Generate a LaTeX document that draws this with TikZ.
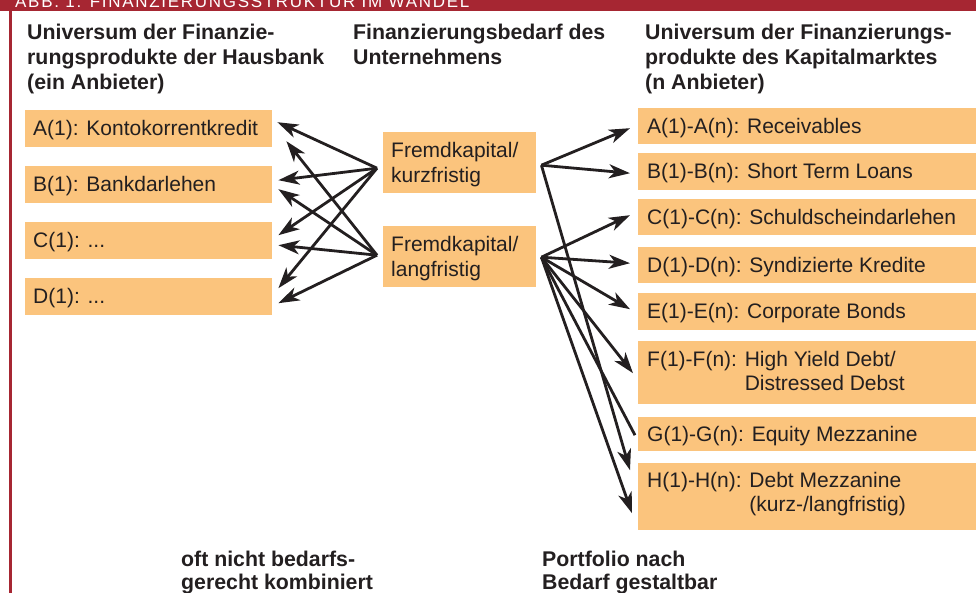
\documentclass[tikz,border=0pt]{standalone}
\usepackage{fontspec}
\setmainfont{Liberation Sans}
\usetikzlibrary{arrows.meta,calc}
\definecolor{barred}{RGB}{166,38,50}
\definecolor{boxor}{RGB}{251,196,125}
\definecolor{ink}{RGB}{35,31,32}
\begin{document}
\begin{tikzpicture}[x=1pt,y=-1pt,
  obox/.style={fill=boxor, draw=none, inner sep=0pt, anchor=north west},
  btext/.style={anchor=base west, inner sep=0pt, font=\fontsize{21}{25}\selectfont, text=ink},
  head/.style={anchor=base west, inner sep=0pt, font=\fontsize{21.3}{25}\selectfont\bfseries, text=ink},
  arr/.style={draw=ink, line width=2.8pt, -{Stealth[length=21pt,width=14pt,inset=6pt]}},
  ln/.style={draw=ink, line width=2.8pt}]
\useasboundingbox (0,0) rectangle (976,593);
% frame
\fill[barred] (0,0) rectangle (976,11);
\fill[barred] (9,0) rectangle (12,593);
\node[anchor=base west, inner sep=0pt, text=white, font=\fontsize{17}{17}\selectfont\addfontfeature{LetterSpace=10}] (title) at (15,8) {ABB. 1: FINANZIERUNGSSTRUKTUR IM WANDEL};
% headings
\node[head] (h1a) at (27,40) {Universum der Finanzie-};
\node[head] (h1b) at (27,65) {rungsprodukte der Hausbank};
\node[head] (h1c) at (27,90) {(ein Anbieter)};
\node[head] (h2a) at (353,40) {Finanzierungsbedarf des};
\node[head] (h2b) at (353,65) {Unternehmens};
\node[head] (h3a) at (645,40) {Universum der Finanzierungs-};
\node[head] (h3b) at (645,65) {produkte des Kapitalmarktes};
\node[head] (h3c) at (645,90) {(n Anbieter)};
% left boxes
\node[obox, minimum width=247pt, minimum height=37pt] (LA) at (25,110) {};
\node[obox, minimum width=247pt, minimum height=37pt] (LB) at (25,166) {};
\node[obox, minimum width=247pt, minimum height=37pt] (LC) at (25,222) {};
\node[obox, minimum width=247pt, minimum height=37pt] (LD) at (25,278) {};
\node[btext] (tLA) at (33,136) {A(1): Kontokorrentkredit};
\node[btext] (tLB) at (33,192) {B(1): Bankdarlehen};
\node[btext] (tLC) at (33,248) {C(1): ...};
\node[btext] (tLD) at (33,304) {D(1): ...};
% middle boxes
\node[obox, minimum width=153pt, minimum height=61pt] (K) at (383,132) {};
\node[obox, minimum width=153pt, minimum height=61pt] (L) at (383,226) {};
\node[btext] (tK1) at (391,157.5) {Fremdkapital/};
\node[btext] (tK2) at (391,182.5) {kurzfristig};
\node[btext] (tL1) at (391,251.5) {Fremdkapital/};
\node[btext] (tL2) at (391,276.5) {langfristig};
% right boxes
\node[obox, minimum width=338pt, minimum height=36pt] (RA) at (638,108) {};
\node[obox, minimum width=338pt, minimum height=37pt] (RB) at (638,153) {};
\node[obox, minimum width=338pt, minimum height=36pt] (RC) at (638,199) {};
\node[obox, minimum width=338pt, minimum height=36pt] (RD) at (638,247) {};
\node[obox, minimum width=338pt, minimum height=37pt] (RE) at (638,293) {};
\node[obox, minimum width=338pt, minimum height=63pt] (RF) at (638,341) {};
\node[obox, minimum width=338pt, minimum height=34pt] (RG) at (638,417) {};
\node[obox, minimum width=338pt, minimum height=67pt] (RH) at (638,463) {};
\node[btext] (tRA) at (647,133.5) {A(1)-A(n): Receivables};
\node[btext] (tRB) at (647,179) {B(1)-B(n): Short Term Loans};
\node[btext] (tRC) at (647,224.5) {C(1)-C(n): Schuldscheindarlehen};
\node[btext] (tRD) at (647,272.5) {D(1)-D(n): Syndizierte Kredite};
\node[btext] (tRE) at (647,319) {E(1)-E(n): Corporate Bonds};
\node[btext] (tRF1) at (647,366) {F(1)-F(n): High Yield Debt/};
\node[btext] (tRF2) at (647,390) {\phantom{F(1)-F(n): }Distressed Debst};
\node[btext] (tRG) at (647,441.5) {G(1)-G(n): Equity Mezzanine};
\node[btext] (tRH1) at (647,487) {H(1)-H(n): Debt Mezzanine};
\node[btext] (tRH2) at (647,511) {\phantom{H(1)-H(n): }(kurz-/langfristig)};
% left connectors
\draw[arr] ([shift={(-6,5.5)}]K.west) -- ([shift={(5,-6.5)}]LA.east);
\draw[arr] ([shift={(-6,5.5)}]K.west) -- ([shift={(6,-4.5)}]LB.east);
\draw[arr] ([shift={(-6,5.5)}]K.west) -- ([shift={(6,-5.5)}]LC.east);
\draw[arr] ([shift={(-6,5.5)}]K.west) -- ([shift={(6,-8.5)}]LD.east);
\draw[arr] ([shift={(-6,-1.5)}]L.west) -- ([shift={(14,12.5)}]LA.east);
\draw[arr] ([shift={(-6,-1.5)}]L.west) -- ([shift={(6,4.5)}]LB.east);
\draw[arr] ([shift={(-6,-1.5)}]L.west) -- ([shift={(6,4.5)}]LC.east);
\draw[arr] ([shift={(-6,-1.5)}]L.west) -- ([shift={(6,6.5)}]LD.east);
% right connectors
\draw[arr] ([shift={(5,2.5)}]K.east) -- ([shift={(-8,2)}]RA.west);
\draw[arr] ([shift={(5,2.5)}]K.east) -- ([shift={(-8,1.5)}]RB.west);
\draw[arr] ([shift={(5,2.5)}]K.east) -- ([shift={(-8,-26.5)}]RH.west);
\draw[arr] ([shift={(5,0.5)}]L.east) -- ([shift={(-8,-2)}]RC.west);
\draw[arr] ([shift={(5,0.5)}]L.east) -- ([shift={(-8,-2)}]RD.west);
\draw[arr] ([shift={(5,0.5)}]L.east) -- ([shift={(-8,-2.5)}]RE.west);
\draw[arr] ([shift={(5,0.5)}]L.east) -- ([shift={(-5,0.5)}]RF.west);
\draw[ln] ([shift={(5,0.5)}]L.east) -- ([shift={(-3,1)}]RG.west);
\draw[arr] ([shift={(5,0.5)}]L.east) -- ([shift={(-6,16.5)}]RH.west);
% bottom notes
\node[head] (n1a) at (181,566) {oft nicht bedarfs-};
\node[head] (n1b) at (181,589) {gerecht kombiniert};
\node[head] (n2a) at (542,566) {Portfolio nach};
\node[head] (n2b) at (542,589) {Bedarf gestaltbar};
\end{tikzpicture}
\end{document}
